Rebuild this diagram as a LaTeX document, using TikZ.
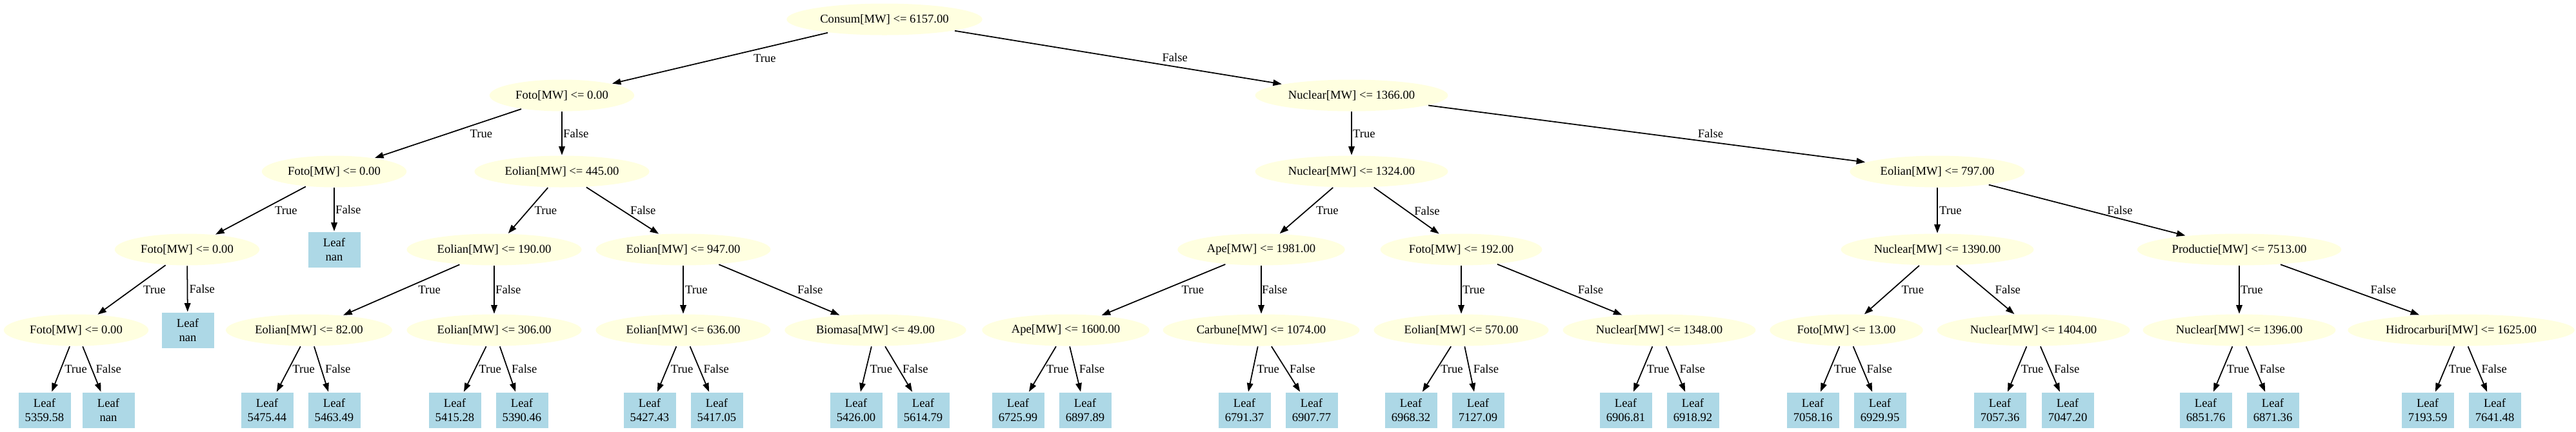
\documentclass[tikz,border=0pt]{standalone}
\usepackage{fontspec}
\setmainfont{Liberation Serif}
\usepackage{tikz}
\usetikzlibrary{arrows.meta,shapes.geometric}
\definecolor{cream}{HTML}{FFFFE0}
\definecolor{ice}{HTML}{ADD8E6}
\tikzset{
  testnode/.style={ellipse,fill=cream,minimum height=4.9mm,inner xsep=0.75mm,inner ysep=0pt,font=\fontsize{5.3}{6.2}\selectfont},
  leafnode/.style={rectangle,fill=ice,minimum width=8.1mm,minimum height=5.5mm,inner sep=0pt,align=center,font=\fontsize{5.3}{6.2}\selectfont},
  lbl/.style={right,inner xsep=1.5pt,inner ysep=0.5pt,font=\fontsize{5.3}{6.2}\selectfont}
}
\newcommand{\testnode}[3]{
  \node[testnode] (#1) at #2 {#3};
}
\newcommand{\leafnode}[3]{
  \node[leafnode] (#1) at #2 {Leaf\\#3};
}

\begin{document}
\begin{tikzpicture}[>={Triangle[length=1.35mm,width=0.95mm]},line width=0.5pt]
  \useasboundingbox (0,0) rectangle (39.93,-6.69);
  % split nodes
  \testnode{R}{(13.71,-0.30)}{Consum[MW] <= 6157.00}
  \testnode{F1}{(8.71,-1.48)}{Foto[MW] <= 0.00}
  \testnode{N1}{(20.95,-1.48)}{Nuclear[MW] <= 1366.00}
  \testnode{F2}{(5.18,-2.66)}{Foto[MW] <= 0.00}
  \testnode{E445}{(8.71,-2.66)}{Eolian[MW] <= 445.00}
  \testnode{N1324}{(20.95,-2.66)}{Nuclear[MW] <= 1324.00}
  \testnode{E797}{(30.03,-2.66)}{Eolian[MW] <= 797.00}
  \testnode{F3}{(2.90,-3.87)}{Foto[MW] <= 0.00}
  \testnode{E190}{(7.66,-3.87)}{Eolian[MW] <= 190.00}
  \testnode{E947}{(10.59,-3.87)}{Eolian[MW] <= 947.00}
  \testnode{A1981}{(19.55,-3.87)}{Ape[MW] <= 1981.00}
  \testnode{F192}{(22.65,-3.87)}{Foto[MW] <= 192.00}
  \testnode{N1390}{(30.03,-3.87)}{Nuclear[MW] <= 1390.00}
  \testnode{P7513}{(34.71,-3.87)}{Productie[MW] <= 7513.00}
  \testnode{F4}{(1.18,-5.12)}{Foto[MW] <= 0.00}
  \testnode{E82}{(4.79,-5.12)}{Eolian[MW] <= 82.00}
  \testnode{E306}{(7.66,-5.12)}{Eolian[MW] <= 306.00}
  \testnode{E636}{(10.59,-5.12)}{Eolian[MW] <= 636.00}
  \testnode{B49}{(13.57,-5.12)}{Biomasa[MW] <= 49.00}
  \testnode{A1600}{(16.52,-5.12)}{Ape[MW] <= 1600.00}
  \testnode{C1074}{(19.55,-5.12)}{Carbune[MW] <= 1074.00}
  \testnode{E570}{(22.65,-5.12)}{Eolian[MW] <= 570.00}
  \testnode{N1348}{(25.72,-5.12)}{Nuclear[MW] <= 1348.00}
  \testnode{F13}{(28.62,-5.12)}{Foto[MW] <= 13.00}
  \testnode{N1404}{(31.52,-5.12)}{Nuclear[MW] <= 1404.00}
  \testnode{N1396}{(34.71,-5.12)}{Nuclear[MW] <= 1396.00}
  \testnode{H1625}{(38.15,-5.12)}{Hidrocarburi[MW] <= 1625.00}
  % leaves
  \leafnode{F2b}{(5.18,-3.87)}{nan}
  \leafnode{F3b}{(2.91,-5.12)}{nan}
  \leafnode{F4a}{(0.69,-6.36)}{5359.58}
  \leafnode{F4b}{(1.68,-6.36)}{nan}
  \leafnode{E82a}{(4.14,-6.36)}{5475.44}
  \leafnode{E82b}{(5.18,-6.36)}{5463.49}
  \leafnode{E306a}{(7.05,-6.36)}{5415.28}
  \leafnode{E306b}{(8.09,-6.36)}{5390.46}
  \leafnode{E636a}{(10.07,-6.36)}{5427.43}
  \leafnode{E636b}{(11.11,-6.36)}{5417.05}
  \leafnode{B49a}{(13.27,-6.36)}{5426.00}
  \leafnode{B49b}{(14.31,-6.36)}{5614.79}
  \leafnode{A1600a}{(15.78,-6.36)}{6725.99}
  \leafnode{A1600b}{(16.82,-6.36)}{6897.89}
  \leafnode{C1074a}{(19.29,-6.36)}{6791.37}
  \leafnode{C1074b}{(20.33,-6.36)}{6907.77}
  \leafnode{E570a}{(21.87,-6.36)}{6968.32}
  \leafnode{E570b}{(22.91,-6.36)}{7127.09}
  \leafnode{N1348a}{(25.20,-6.36)}{6906.81}
  \leafnode{N1348b}{(26.24,-6.36)}{6918.92}
  \leafnode{F13a}{(28.10,-6.36)}{7058.16}
  \leafnode{F13b}{(29.14,-6.36)}{6929.95}
  \leafnode{N1404a}{(31.00,-6.36)}{7057.36}
  \leafnode{N1404b}{(32.05,-6.36)}{7047.20}
  \leafnode{N1396a}{(34.19,-6.36)}{6851.76}
  \leafnode{N1396b}{(35.23,-6.36)}{6871.36}
  \leafnode{H1625a}{(37.63,-6.36)}{7193.59}
  \leafnode{H1625b}{(38.67,-6.36)}{7641.48}
  % edges
  \draw[->] (R) -- node[lbl,xshift=4.6mm] {True} (F1);
  \draw[->] (R) -- node[lbl,xshift=6.2mm] {False} (N1);
  \draw[->] (F1) -- node[lbl,xshift=2.8mm] {True} (F2);
  \draw[->] (F1) -- node[lbl,xshift=-0.4mm] {False} (E445);
  \draw[->] (N1) -- node[lbl,xshift=-0.4mm] {True} (N1324);
  \draw[->] (N1) -- node[lbl,xshift=7.3mm] {False} (E797);
  \draw[->] (F2) -- node[lbl,xshift=1.6mm] {True} (F3);
  \draw[->] (F2) -- node[lbl,xshift=-0.4mm] {False} (F2b);
  \draw[->] (E445) -- node[lbl,xshift=0.4mm] {True} (E190);
  \draw[->] (E445) -- node[lbl,xshift=0.6mm] {False} (E947);
  \draw[->] (N1324) -- node[lbl,xshift=0.9mm] {True} (A1981);
  \draw[->] (N1324) -- node[lbl,xshift=0.6mm] {False} (F192);
  \draw[->] (E797) -- node[lbl,xshift=-0.3mm] {True} (N1390);
  \draw[->] (E797) -- node[lbl,xshift=2.5mm] {False} (P7513);
  \draw[->] (F3) -- node[lbl,xshift=1.2mm] {True} (F4);
  \draw[->] (F3) -- node[lbl,xshift=-0.3mm] {False} (F3b);
  \draw[->] (E190) -- node[lbl,xshift=2.0mm] {True} (E82);
  \draw[->] (E190) -- node[lbl,xshift=-0.4mm] {False} (E306);
  \draw[->] (E947) -- node[lbl,xshift=-0.3mm] {True} (E636);
  \draw[->] (E947) -- node[lbl,xshift=2.2mm] {False} (B49);
  \draw[->] (A1981) -- node[lbl,xshift=2.2mm] {True} (A1600);
  \draw[->] (A1981) -- node[lbl,xshift=-0.5mm] {False} (C1074);
  \draw[->] (F192) -- node[lbl,xshift=-0.4mm] {True} (E570);
  \draw[->] (F192) -- node[lbl,xshift=2.2mm] {False} (N1348);
  \draw[->] (N1390) -- node[lbl,xshift=0.9mm] {True} (F13);
  \draw[->] (N1390) -- node[lbl,xshift=0.9mm] {False} (N1404);
  \draw[->] (P7513) -- node[lbl,xshift=-0.4mm] {True} (N1396);
  \draw[->] (P7513) -- node[lbl,xshift=2.6mm] {False} (H1625);
  \draw[->] (F4) -- node[lbl] {True} (F4a);
  \draw[->] (F4) -- node[lbl] {False} (F4b);
  \draw[->] (E82) -- node[lbl] {True} (E82a);
  \draw[->] (E82) -- node[lbl] {False} (E82b);
  \draw[->] (E306) -- node[lbl] {True} (E306a);
  \draw[->] (E306) -- node[lbl] {False} (E306b);
  \draw[->] (E636) -- node[lbl] {True} (E636a);
  \draw[->] (E636) -- node[lbl] {False} (E636b);
  \draw[->] (B49) -- node[lbl] {True} (B49a);
  \draw[->] (B49) -- node[lbl] {False} (B49b);
  \draw[->] (A1600) -- node[lbl] {True} (A1600a);
  \draw[->] (A1600) -- node[lbl] {False} (A1600b);
  \draw[->] (C1074) -- node[lbl] {True} (C1074a);
  \draw[->] (C1074) -- node[lbl] {False} (C1074b);
  \draw[->] (E570) -- node[lbl] {True} (E570a);
  \draw[->] (E570) -- node[lbl] {False} (E570b);
  \draw[->] (N1348) -- node[lbl] {True} (N1348a);
  \draw[->] (N1348) -- node[lbl] {False} (N1348b);
  \draw[->] (F13) -- node[lbl] {True} (F13a);
  \draw[->] (F13) -- node[lbl] {False} (F13b);
  \draw[->] (N1404) -- node[lbl] {True} (N1404a);
  \draw[->] (N1404) -- node[lbl] {False} (N1404b);
  \draw[->] (N1396) -- node[lbl] {True} (N1396a);
  \draw[->] (N1396) -- node[lbl] {False} (N1396b);
  \draw[->] (H1625) -- node[lbl] {True} (H1625a);
  \draw[->] (H1625) -- node[lbl] {False} (H1625b);
\end{tikzpicture}
\end{document}
